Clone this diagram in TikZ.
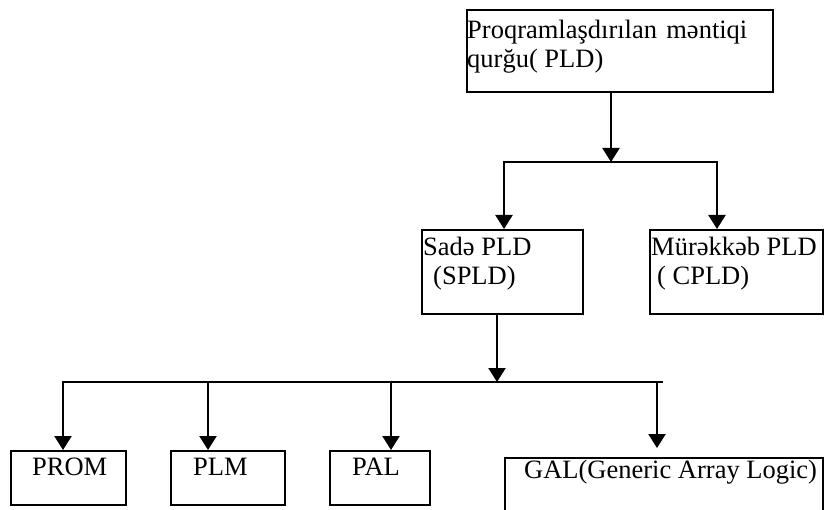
\documentclass[tikz,border=0pt]{standalone}
\usepackage{fontspec}
\setmainfont{Liberation Serif}
\usetikzlibrary{arrows.meta}

\tikzset{
  box/.style={draw, line width=2pt, rectangle, inner sep=0pt, anchor=north west},
  txt/.style={inner sep=0pt, anchor=base west, align=left,
              font=\fontsize{26.5}{29}\selectfont},
  link/.style={line width=2.3pt},
  tip/.style={-{Triangle[width=17pt,length=14pt]}},
  twotips/.style={{Triangle[width=17pt,length=14pt]}-{Triangle[width=17pt,length=14pt]}}
}

\begin{document}
\begin{tikzpicture}[x=1pt, y=-1pt]
  \useasboundingbox (0,0) rectangle (824,510);
  \clip (0,0) rectangle (824,510);

  % boxes
  \node[box, minimum width=306pt, minimum height=82pt] (top) at (466,9) {};
  \node[box, minimum width=161pt, minimum height=84pt] (sade) at (421,229) {};
  \node[box, minimum width=173pt, minimum height=84pt] (cplx) at (649,229) {};
  \node[box, minimum width=115pt, minimum height=54pt] (prom) at (10,450) {};
  \node[box, minimum width=114pt, minimum height=54pt] (plm) at (170,450) {};
  \node[box, minimum width=100pt, minimum height=54pt] (pal) at (329,450) {};
  \node[box, minimum width=318pt, minimum height=80pt] (gal) at (504,457) {};

  % box texts (two-line texts sit on the baseline of their last line)
  \node[txt] (topT) at (467,68) {Proqramlaşdırılan\hspace{0.35em}məntiqi\\qurğu( PLD)};
  \node[txt] (sadeT) at (423,285) {Sadə PLD\\\hspace*{10pt}(SPLD)};
  \node[txt] (cplxT) at (651,285) {Mürəkkəb PLD\\\hspace*{6pt}( CPLD)};
  \node[txt] (promT) at (32,475) {PROM};
  \node[txt] (plmT) at (193,475) {PLM};
  \node[txt] (palT) at (352,475) {PAL};
  \node[txt] (galT) at (524,478) {GAL(Generic Array Logic)};

  % junction points of the branch lines
  \coordinate (busA) at (611,162);
  \coordinate (busAL) at (504,162);
  \coordinate (busAR) at (717,162);
  \coordinate (busB) at (497,382);
  \coordinate (busBL) at (63,382);
  \coordinate (busBR) at (663,382);
  \coordinate (tapPLM) at (208,382);
  \coordinate (tapPAL) at (391,382);
  \coordinate (tapGAL) at (657,382);
  \coordinate (galTip) at (657,448);

  % PLD -> SPLD / CPLD
  \draw[link, tip] (top.south -| busA) -- (busA);
  \draw[link, twotips] (sade.north -| busAL) -- (busAL) -- (busAR) -- (cplx.north -| busAR);

  % SPLD -> PROM / PLM / PAL / GAL
  \draw[link, tip] (sade.south -| busB) -- (busB);
  \draw[link, tip] (busBR) -- (busBL) -- (prom.north -| busBL);
  \draw[link, tip] (tapPLM) -- (plm.north -| tapPLM);
  \draw[link, tip] (tapPAL) -- (pal.north -| tapPAL);
  \draw[link, tip] (tapGAL) -- (galTip);
\end{tikzpicture}
\end{document}
